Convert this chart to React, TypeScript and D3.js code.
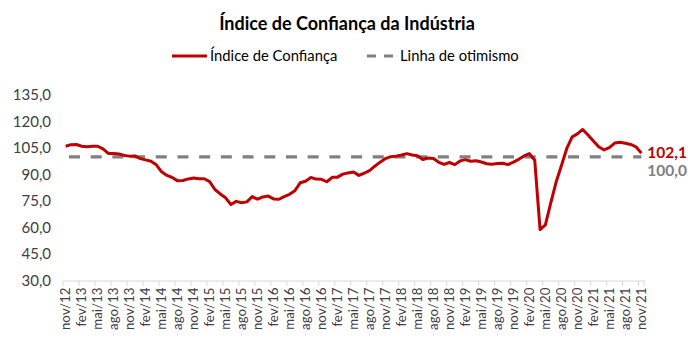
import React, { useRef, useEffect } from "react";
import * as d3 from "d3";

// month labels, nov/12 .. nov/21
const monthNames = ["jan", "fev", "mar", "abr", "mai", "jun", "jul", "ago", "set", "out", "nov", "dez"];
const months: string[] = [];
for (let k = 0; k < 109; k++) {
  const m = (10 + k) % 12;
  const yr = 12 + Math.floor((10 + k) / 12);
  months.push(monthNames[m] + "/" + yr);
}

// Índice de Confiança da Indústria
const indice = [
  106.0, 106.9, 107.0, 106.0, 105.7, 106.0, 106.0, 104.5, 101.9, 101.9, 101.6, 100.8,
  100.4, 100.5, 99.0, 98.3, 97.5, 95.5, 91.5, 89.5, 88.3, 86.4, 86.6, 87.5,
  88.0, 87.6, 87.6, 86.0, 81.5, 79.0, 76.8, 73.0, 74.8, 74.0, 74.5, 77.5,
  76.0, 77.3, 77.8, 76.2, 76.0, 77.5, 78.8, 80.8, 85.3, 86.2, 88.3, 87.4,
  87.3, 85.9, 88.4, 88.5, 90.2, 90.9, 91.4, 89.5, 90.7, 92.2, 94.7, 97.0,
  99.0, 100.1, 100.4, 101.0, 101.8, 101.0, 100.6, 98.5, 99.3, 99.0, 96.9, 95.7,
  96.8, 95.6, 97.7, 98.4, 97.5, 97.8, 97.1, 96.1, 95.8, 96.2, 96.4, 95.6,
  97.0, 98.6, 100.5, 101.8, 98.1, 58.8, 61.5, 73.8, 85.6, 95.0, 104.6, 111.2,
  113.0, 115.5, 112.4, 109.0, 105.7, 103.9, 105.2, 107.8, 108.2, 107.7, 107.0, 105.7,
  102.1,
];
const otimismo = 100;
const yTicks = [30, 45, 60, 75, 90, 105, 120, 135];

const FONT = "Lato, 'Open Sans', sans-serif";

function App() {
  const svgRef = useRef<SVGSVGElement>(null);

  useEffect(() => {
    const svg = d3.select(svgRef.current);
    svg.selectAll("*").remove();

    const x = d3.scaleBand().domain(months).range([63, 644]).padding(0);
    const cx = (d: string) => (x(d) as number) + x.bandwidth() / 2;
    const y = d3.scaleLinear().domain([30, 135]).range([280.5, 95]);
    const fmt = (v: number) => v.toFixed(1).replace(".", ",");

    // title
    svg
      .append("text")
      .attr("x", 347)
      .attr("y", 30)
      .attr("text-anchor", "middle")
      .attr("font-family", FONT)
      .attr("font-weight", "bold")
      .attr("font-size", 18)
      .attr("fill", "#000")
      .text("Índice de Confiança da Indústria");

    // legend
    const lg = svg.append("g").attr("font-family", FONT).attr("font-size", 14.8).attr("fill", "#000");
    lg.append("line").attr("x1", 172).attr("x2", 207).attr("y1", 56).attr("y2", 56)
      .attr("stroke", "#C00000").attr("stroke-width", 3);
    lg.append("text").attr("x", 210).attr("y", 61).text("Índice de Confiança");
    lg.append("line").attr("x1", 367).attr("x2", 394).attr("y1", 56).attr("y2", 56)
      .attr("stroke", "#808080").attr("stroke-width", 3).attr("stroke-dasharray", "9,8");
    lg.append("text").attr("x", 400).attr("y", 61).text("Linha de otimismo");

    // y axis labels
    const yAxis = d3.axisLeft(y).tickValues(yTicks).tickFormat((d) => fmt(d as number)).tickSize(0).tickPadding(0);
    const gy = svg.append("g").attr("transform", "translate(51,0)").call(yAxis);
    gy.select(".domain").remove();
    gy.selectAll("text").attr("font-family", FONT).attr("font-size", 15).attr("fill", "#404040");

    // x axis
    const xAxis = d3.axisBottom(x)
      .tickValues(months.filter((_, i) => i % 3 === 0))
      .tickSize(0);
    const gx = svg.append("g").attr("transform", "translate(0,280.5)").call(xAxis);
    gx.select(".domain").attr("stroke", "#d9d9d9");
    gx.selectAll("text")
      .attr("font-family", FONT)
      .attr("font-size", 13.3)
      .attr("fill", "#404040")
      .attr("transform", "rotate(-90)")
      .attr("text-anchor", "end")
      .attr("x", -7)
      .attr("y", 0)
      .attr("dy", "0.35em");
    // tick marks at category boundaries
    svg.append("g")
      .selectAll("line")
      .data(months.filter((_, i) => i % 3 === 0).concat(["end"]))
      .join("line")
      .attr("x1", (d) => (d === "end" ? 644 : (x(d) as number)))
      .attr("x2", (d) => (d === "end" ? 644 : (x(d) as number)))
      .attr("y1", 280.5)
      .attr("y2", 286)
      .attr("stroke", "#d9d9d9");

    // optimism line
    svg.append("line")
      .attr("x1", cx(months[0]))
      .attr("x2", cx(months[months.length - 1]))
      .attr("y1", y(otimismo))
      .attr("y2", y(otimismo))
      .attr("stroke", "#808080")
      .attr("stroke-width", 3.2)
      .attr("stroke-dasharray", "11,10.7")
      .attr("stroke-dashoffset", -3.3);

    // index line
    const line = d3.line<number>()
      .x((_, i) => cx(months[i]))
      .y((d) => y(d));
    svg.append("path")
      .datum(indice)
      .attr("d", line)
      .attr("fill", "none")
      .attr("stroke", "#C00000")
      .attr("stroke-width", 3)
      .attr("stroke-linejoin", "round");

    // end labels
    const lastX = cx(months[months.length - 1]);
    svg.append("text")
      .attr("x", lastX + 6)
      .attr("y", y(indice[indice.length - 1]) + 5)
      .attr("font-family", FONT)
      .attr("font-weight", "bold")
      .attr("font-size", 15.5)
      .attr("fill", "#C00000")
      .text(fmt(indice[indice.length - 1]));
    svg.append("text")
      .attr("x", lastX + 6)
      .attr("y", y(otimismo) + 19)
      .attr("font-family", FONT)
      .attr("font-weight", "bold")
      .attr("font-size", 15.5)
      .attr("fill", "#808080")
      .text(fmt(otimismo));
  }, []);

  return (
    <svg
      ref={svgRef}
      width={688}
      height={351}
      style={{ position: "absolute", left: 0, top: 0, background: "#fff" }}
    />
  );
}

export default App;
